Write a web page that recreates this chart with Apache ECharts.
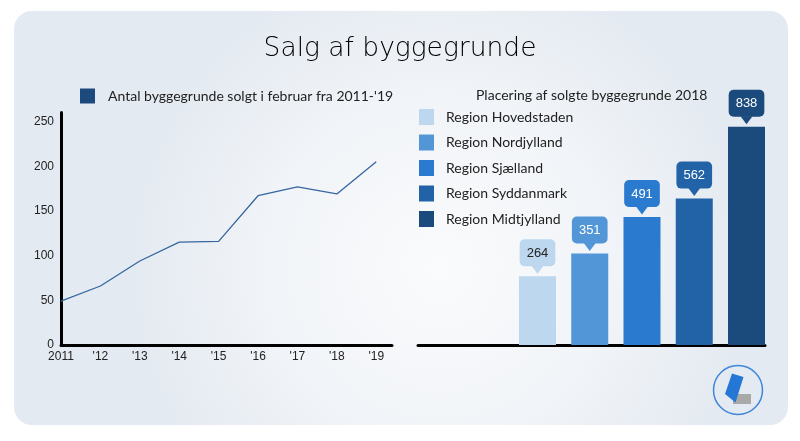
<!DOCTYPE html>
<html><head><meta charset="utf-8">
<script src="https://cdn.jsdelivr.net/npm/echarts@6/dist/echarts.min.js"></script>
<style>html,body{margin:0;padding:0;background:#fff}#c{width:800px;height:441px}</style>
</head><body><div id="c"></div>
<script>
const years = [2011, 2012, 2013, 2014, 2015, 2016, 2017, 2018, 2019];
const yearLabels = ['2011', "'12", "'13", "'14", "'15", "'16", "'17", "'18", "'19"];
const salesFeb = [49, 66, 94, 115, 116, 167, 177, 169, 205];
const lineName = "Antal byggegrunde solgt i februar fra 2011-'19";
const regions = ['Region Hovedstaden', 'Region Nordjylland', 'Region Sjælland', 'Region Syddanmark', 'Region Midtjylland'];
const regionValues = [264, 351, 491, 562, 838];
const regionColors = ['#bdd7ef', '#5396d7', '#2a7bcf', '#2262a6', '#1b4a7c'];
const regionLabelColors = ['#222222', '#ffffff', '#ffffff', '#ffffff', '#ffffff'];

const chart = echarts.init(document.getElementById('c'), null, {renderer: 'canvas'});

const barSeries = regions.map((name, i) => ({
  name: name,
  type: 'bar',
  xAxisIndex: 1, yAxisIndex: 1,
  barWidth: 37,
  barGap: '-100%',
  itemStyle: {color: regionColors[i]},
  data: [[i, regionValues[i]]],
  label: {
    show: true, position: 'top', distance: 10,
    formatter: (p) => String(p.value[1]),
    color: regionLabelColors[i],
    backgroundColor: regionColors[i],
    borderRadius: 5,
    padding: [7, 7, 6, 7],
    lineHeight: 14,
    fontFamily: 'Liberation Sans, Arial, sans-serif',
    fontSize: 13
  },
  markPoint: {
    symbol: 'triangle', symbolRotate: 180, symbolSize: [12, 8], symbolOffset: [0, -6.5],
    itemStyle: {color: regionColors[i]},
    label: {show: false},
    silent: true,
    data: [{coord: [i, regionValues[i]]}]
  }
}));

const option = {
  animation: false,
  graphic: [
    {type: 'rect', z: -10, silent: true,
     shape: {x: 14, y: 11, width: 774, height: 414, r: 18},
     style: {fill: {type: 'radial', x: 0.55, y: 0.62, r: 0.75,
       colorStops: [{offset: 0, color: '#fafbfc'}, {offset: 0.55, color: '#f1f4f8'}, {offset: 1, color: '#e4eaf1'}]}}},
    {type: 'circle', z: 10, shape: {cx: 738, cy: 390, r: 24.5}, style: {fill: 'none', stroke: '#3f86d8', lineWidth: 1.5}},
    {type: 'rect', z: 10, shape: {x: 733, y: 394, width: 18, height: 10}, style: {fill: '#a9a9a9'}},
    {type: 'polygon', z: 11, shape: {points: [[732, 373.5], [743.5, 377], [735.5, 402.5], [725, 394]]}, style: {fill: '#2477d4'}}
  ],
  title: [
    {text: 'Salg af byggegrunde', left: 'center', top: 31,
     textStyle: {fontFamily: 'DejaVu Sans', fontWeight: 200, fontSize: 26.5, color: '#000'}},
    {text: 'Placering af solgte byggegrunde 2018', left: 471, top: 83,
     textStyle: {fontFamily: 'Lato', fontWeight: 400, fontSize: 14, color: '#222'}}
  ],
  legend: [
    {data: [lineName], left: 80, top: 88.5, padding: 0, icon: 'rect', itemWidth: 15, itemHeight: 15, itemGap: 10,
     textStyle: {fontFamily: 'Lato', fontSize: 14, color: '#222', padding: [0, 0, 0, 8]}, selectedMode: false},
    {data: regions, orient: 'vertical', left: 419, top: 109, padding: 0, icon: 'rect', itemWidth: 15, itemHeight: 16, itemGap: 9.5,
     textStyle: {fontFamily: 'Lato', fontSize: 14, color: '#222', padding: [0, 0, 0, 7]}, selectedMode: false}
  ],
  grid: [
    {left: 61, right: 408, top: 112.6, bottom: 96},
    {left: 418, right: 35, top: 84.5, bottom: 96}
  ],
  xAxis: [
    {type: 'value', gridIndex: 0, min: 2011, max: 2019.4, interval: 1,
     axisLine: {show: true, lineStyle: {color: '#000', width: 3}},
     axisTick: {show: false}, splitLine: {show: false},
     axisLabel: {color: '#222', fontSize: 12, fontFamily: 'Liberation Sans, Arial, sans-serif', margin: 6,
       showMaxLabel: false,
       formatter: (v) => { const k = years.indexOf(Math.round(v)); return (Math.abs(v - Math.round(v)) < 1e-6 && k >= 0) ? yearLabels[k] : ''; }}},
    {type: 'value', gridIndex: 1, min: -2.287, max: 4.354,
     axisLine: {show: true, onZero: false, lineStyle: {color: '#000', width: 3}},
     axisTick: {show: false}, splitLine: {show: false}, axisLabel: {show: false}}
  ],
  yAxis: [
    {type: 'value', gridIndex: 0, min: 0, max: 260, interval: 50,
     axisLine: {show: true, lineStyle: {color: '#000', width: 3}},
     axisTick: {show: false}, splitLine: {show: false},
     axisLabel: {color: '#222', fontSize: 12, fontFamily: 'Liberation Sans, Arial, sans-serif', margin: 7,
       formatter: (v) => (v % 50 === 0 ? String(v) : '')}},
    {type: 'value', gridIndex: 1, min: 0, max: 1000, show: false}
  ],
  series: [
    {name: lineName, type: 'line', xAxisIndex: 0, yAxisIndex: 0,
     showSymbol: false, symbol: 'none',
     itemStyle: {color: '#1d4a7c'},
     lineStyle: {color: '#3566a0', width: 1.3},
     data: years.map((y, i) => [y, salesFeb[i]])}
  ].concat(barSeries)
};
chart.setOption(option);
</script>
</body></html>
